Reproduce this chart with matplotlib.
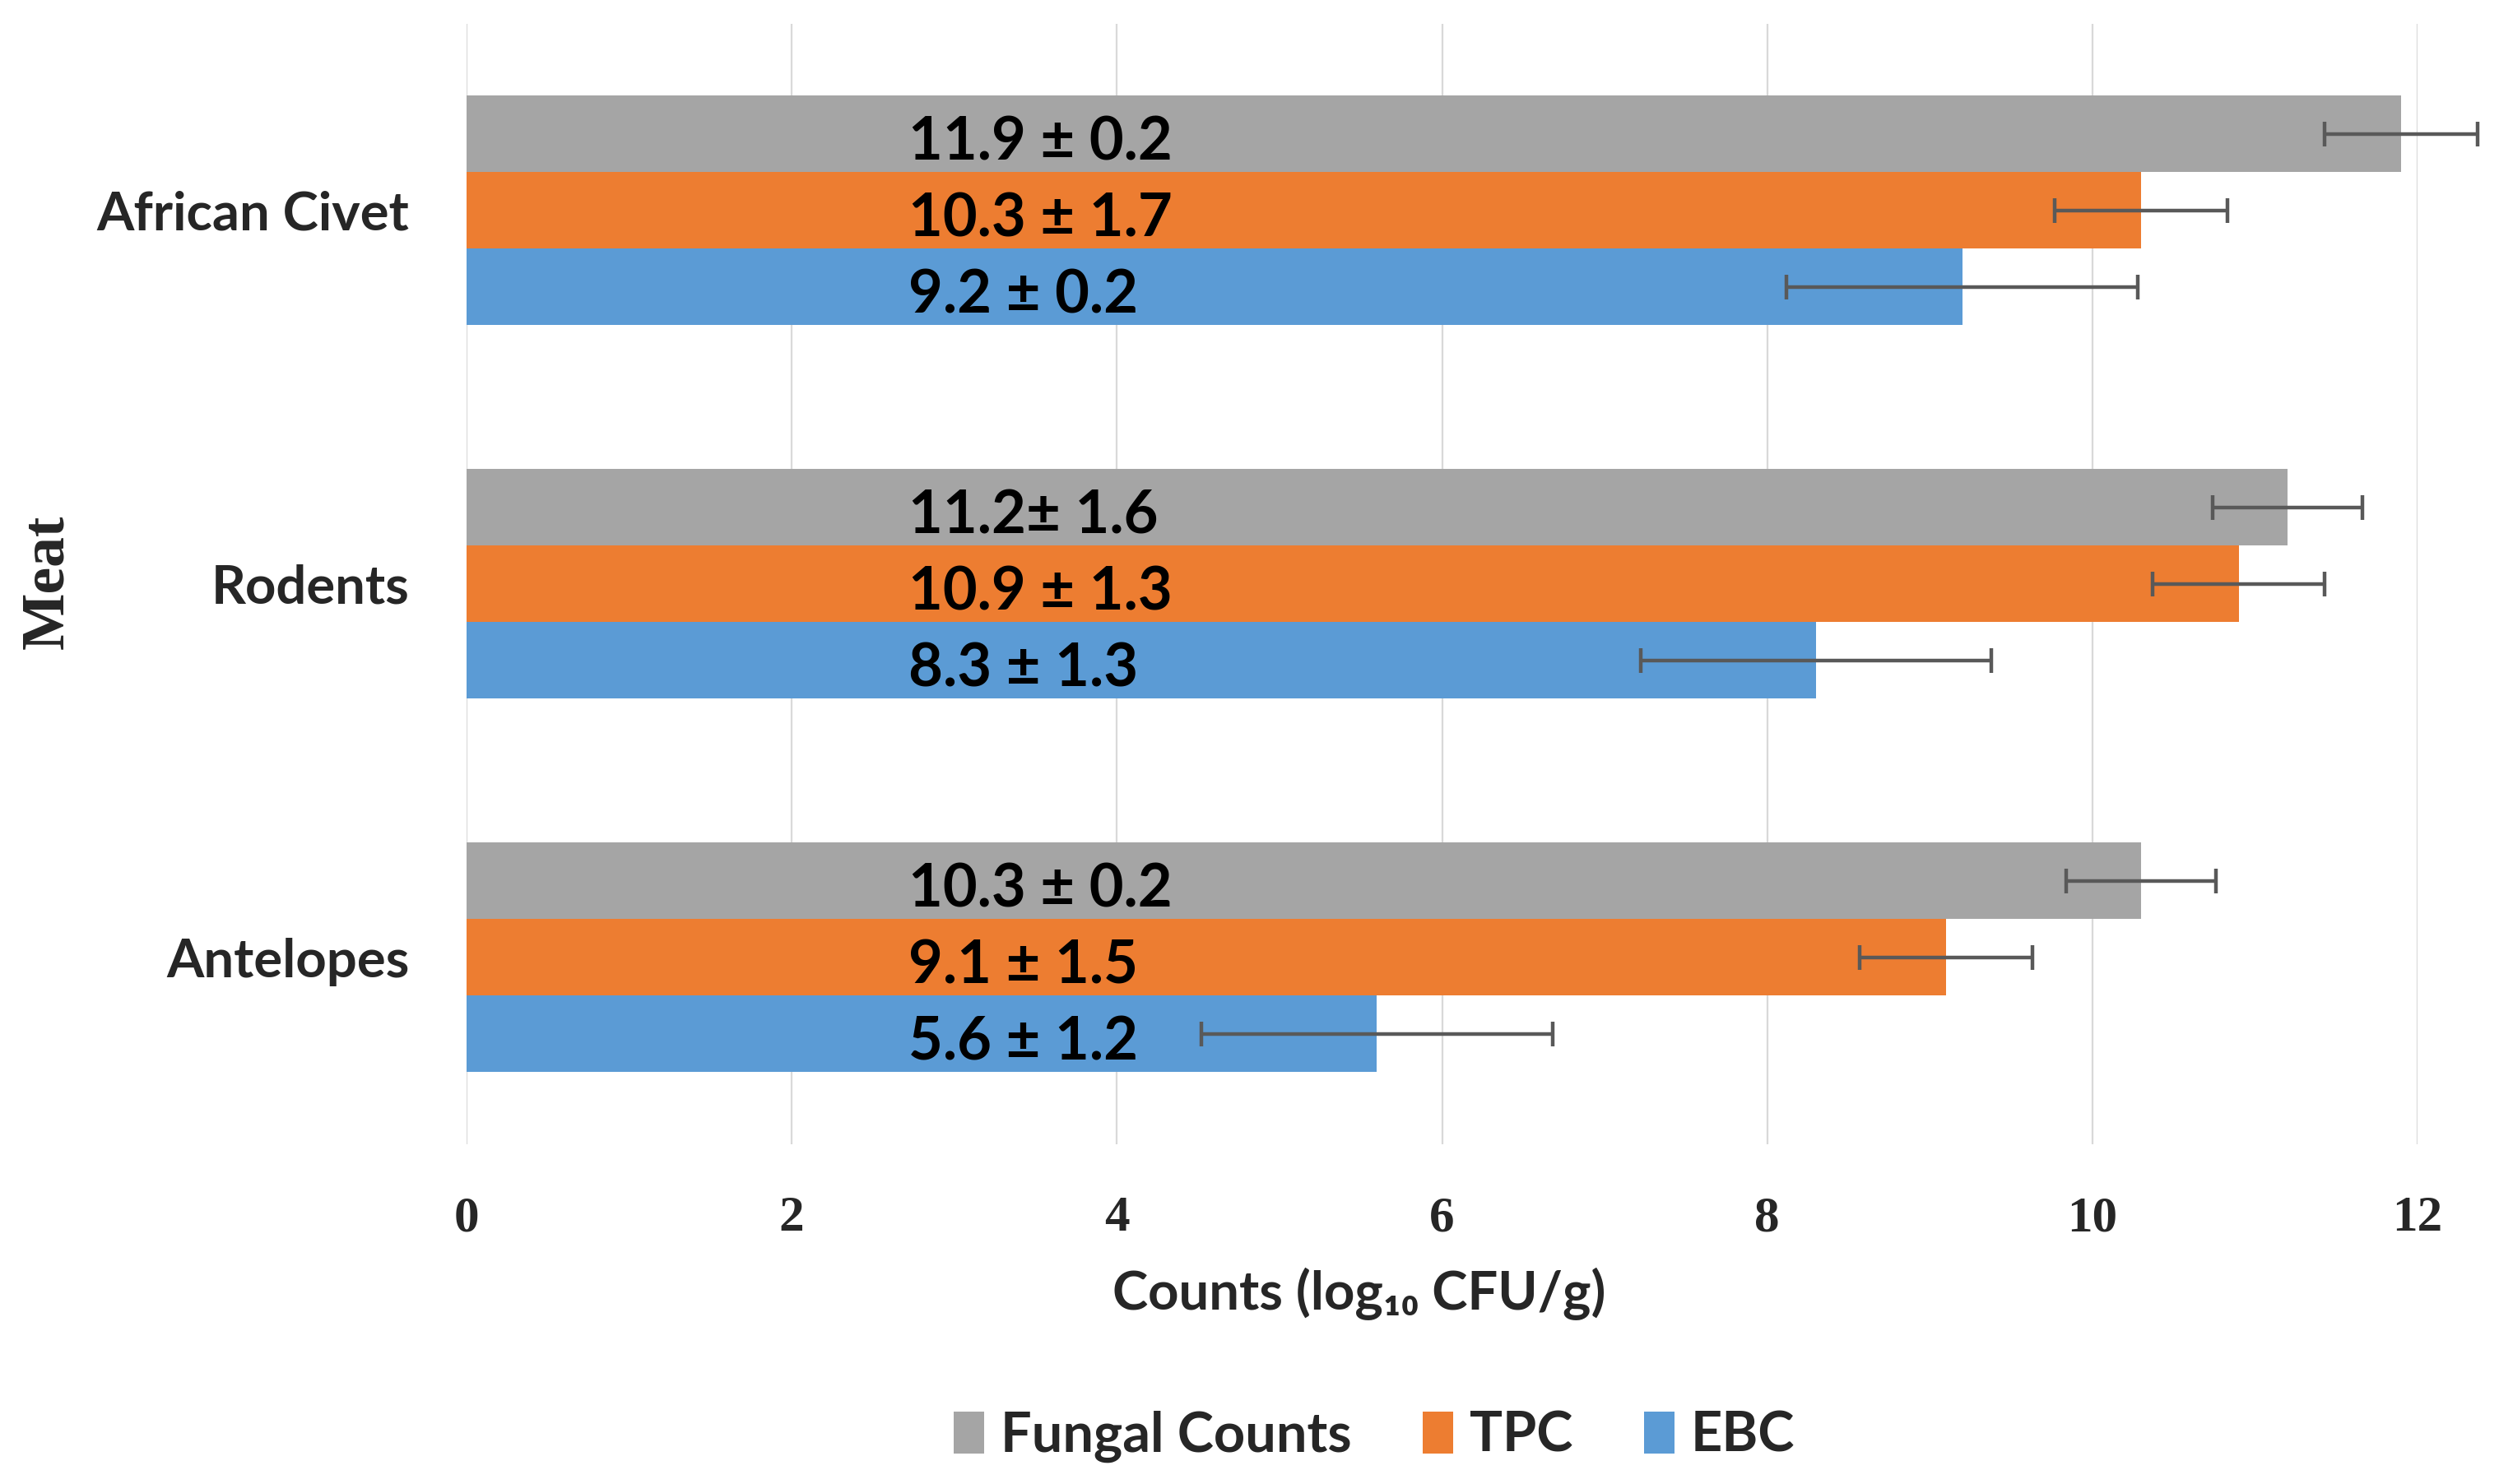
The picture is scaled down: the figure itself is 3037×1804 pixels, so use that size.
import numpy as np
import matplotlib.pyplot as plt

# data
meats = ["African Civet", "Rodents", "Antelopes"]
series = ["Fungal Counts", "TPC", "EBC"]
fungal = [11.9, 11.2, 10.3]
tpc = [10.3, 10.9, 9.1]
ebc = [9.2, 8.3, 5.6]
# error bar half-widths as drawn (same within a series)
fungal_err = [0.47, 0.46, 0.46]
tpc_err = [0.53, 0.53, 0.53]
ebc_err = [1.08, 1.08, 1.08]
fungal_lbl = ["11.9 ± 0.2", "11.2± 1.6", "10.3 ± 0.2"]
tpc_lbl = ["10.3 ± 1.7", "10.9 ± 1.3", "9.1 ± 1.5"]
ebc_lbl = ["9.2 ± 0.2", "8.3 ± 1.3", "5.6 ± 1.2"]
xticks = [0, 2, 4, 6, 8, 10, 12]

colors = ["#A5A5A5", "#ED7D31", "#5B9BD5"]
txt_col = "#262626"
sans = ["Lato", "DejaVu Sans"]
serif = ["Liberation Serif", "DejaVu Serif"]

fig = plt.figure(figsize=(30.37, 18.04), dpi=100)
ax = fig.add_axes([0.1867, 0.229, 0.7807, 0.755])

y = np.arange(len(meats))
h = 0.205
vals = [fungal, tpc, ebc]
errs = [fungal_err, tpc_err, ebc_err]
lbls = [fungal_lbl, tpc_lbl, ebc_lbl]
offs = [-h, 0, h]

for v, e, l, o, c, name in zip(vals, errs, lbls, offs, colors, series):
    ax.barh(y + o, v, height=h, color=c, label=name, zorder=2)
    ax.errorbar(v, y + o, xerr=e, fmt="none", ecolor="#595959",
                elinewidth=3.2, capsize=11, capthick=3.2, zorder=3, clip_on=False)
    for yy, s in zip(y + o, l):
        ax.text(2.72, yy + 0.025, s, ha="left", va="center", fontsize=52,
                fontweight="bold", family=sans, color="black", zorder=4)

ax.set_xlim(0, 12)
ax.set_ylim(2.5, -0.5)
ax.set_xticks(xticks)
ax.set_xticklabels([str(t) for t in xticks], fontsize=44, fontweight="bold",
                   family=serif, color=txt_col)
ax.set_yticks(y)
ax.set_yticklabels(meats, fontsize=47, fontweight="bold", family=sans, color=txt_col)
ax.tick_params(axis="x", length=0, pad=45)
ax.tick_params(axis="y", length=0, pad=50)
ax.grid(axis="x", color="#D9D9D9", lw=1.6, zorder=0)
ax.set_axisbelow(True)
for sp in ax.spines.values():
    sp.set_visible(False)

fig.text(0.0191, 0.608, "Meat", rotation=90, ha="center", va="center",
         fontsize=53, fontweight="bold", family=serif, color=txt_col)
fig.text(0.544, 0.128, "Counts (log₁₀ CFU/g)", ha="center", va="center",
         fontsize=47, fontweight="bold", family=sans, color=txt_col)

leg = fig.legend(loc="center", bbox_to_anchor=(0.55, 0.032), ncol=3, frameon=False,
                 prop={"family": sans, "weight": "bold", "size": 48},
                 handlelength=0.55, handleheight=0.8, handletextpad=0.3, columnspacing=1.3)
for t in leg.get_texts():
    t.set_color(txt_col)

fig.savefig("out.png", dpi=100)
